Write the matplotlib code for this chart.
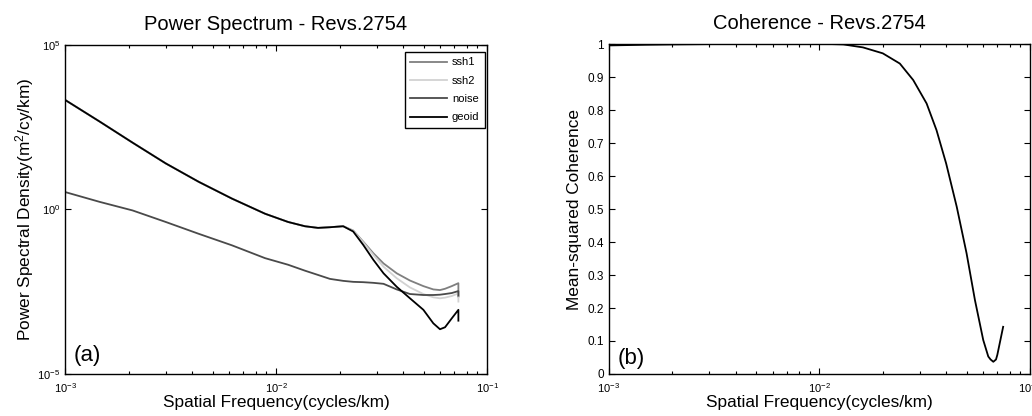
import matplotlib
matplotlib.use('Agg')
import matplotlib.pyplot as plt
import matplotlib.ticker as mticker
import numpy as np

plt.rcParams['font.family'] = ['Liberation Sans', 'DejaVu Sans']
plt.rcParams['mathtext.default'] = 'regular'

# Power spectrum (a): frequency in cycles/km, PSD given as log10 values
psd_freq = [1.0e-3, 1.46e-3, 2.09e-3, 3.0e-3, 4.3e-3, 6.18e-3, 8.87e-3, 1.14e-2,
            1.37e-2, 1.58e-2, 1.80e-2, 2.08e-2, 2.32e-2, 2.59e-2, 2.89e-2, 3.23e-2,
            3.73e-2, 4.31e-2, 4.99e-2, 5.56e-2, 5.98e-2, 6.32e-2, 6.80e-2, 7.31e-2,
            7.31e-2]
ssh1_log10 = [3.33, 2.67, 2.03, 1.40, 0.84, 0.33, -0.13, -0.38, -0.51, -0.56,
              -0.54, -0.51, -0.64, -0.98, -1.33, -1.64, -1.94, -2.16, -2.33,
              -2.43, -2.45, -2.41, -2.33, -2.24, -2.65]
ssh2_log10 = [3.33, 2.67, 2.03, 1.40, 0.84, 0.33, -0.13, -0.38, -0.51, -0.56,
              -0.54, -0.51, -0.65, -1.00, -1.38, -1.74, -2.09, -2.37, -2.57,
              -2.67, -2.70, -2.68, -2.63, -2.55, -2.80]
noise_log10 = [0.53, 0.23, -0.03, -0.38, -0.74, -1.09, -1.48, -1.68, -1.86, -1.99,
               -2.11, -2.17, -2.20, -2.21, -2.23, -2.26, -2.43, -2.57, -2.60,
               -2.60, -2.59, -2.57, -2.54, -2.48, -2.62]
geoid_log10 = [3.33, 2.67, 2.03, 1.40, 0.84, 0.33, -0.13, -0.38, -0.51, -0.56,
               -0.54, -0.51, -0.67, -1.08, -1.53, -1.94, -2.35, -2.70, -3.05,
               -3.46, -3.64, -3.58, -3.31, -3.05, -3.38]

# Coherence (b)
coh_freq = [1.0e-3, 1.5e-3, 2.0e-3, 3.0e-3, 5.0e-3, 1.0e-2, 1.15e-2, 1.30e-2,
            1.61e-2, 2.0e-2, 2.41e-2, 2.79e-2, 3.23e-2, 3.60e-2, 4.0e-2, 4.49e-2,
            5.0e-2, 5.48e-2, 6.0e-2, 6.34e-2, 6.50e-2, 6.70e-2, 6.90e-2, 7.0e-2,
            7.46e-2]
coherence = [0.996, 0.998, 0.999, 1.0, 1.0, 1.0, 1.0, 0.999,
             0.990, 0.972, 0.941, 0.891, 0.820, 0.739, 0.638, 0.507,
             0.366, 0.224, 0.103, 0.053, 0.044, 0.037, 0.044, 0.058,
             0.143]

series = [
    ('ssh1', ssh1_log10, '#7f7f7f'),
    ('ssh2', ssh2_log10, '#d2d2d2'),
    ('noise', noise_log10, '#4a4a4a'),
    ('geoid', geoid_log10, '#000000'),
]


def style_axes(ax):
    ax.set_xscale('log')
    ax.set_xlim(1e-3, 1e-1)
    ax.tick_params(which='both', direction='in', top=True, right=True,
                   labelsize=8, width=0.8)
    ax.tick_params(which='major', length=4)
    ax.tick_params(which='minor', length=2)
    ax.tick_params(axis='x', which='both', pad=5)
    for sp in ax.spines.values():
        sp.set_linewidth(1.0)
    ax.set_xlabel('Spatial Frequency(cycles/km)', fontsize=12.4, labelpad=0)


fig = plt.figure(figsize=(10.32, 4.16), dpi=100)

# (a) power spectrum
ax1 = fig.add_axes([0.063, 0.101, 0.409, 0.791])
for name, vals, color in series:
    ax1.plot(psd_freq, 10 ** np.array(vals), color=color, linewidth=1.3, label=name)
ax1.set_yscale('log')
style_axes(ax1)
ax1.set_ylim(1e-5, 1e5)
ax1.set_yticks([1e-5, 1e0, 1e5])
ax1.yaxis.set_minor_locator(mticker.NullLocator())
ax1.set_ylabel('Power Spectral Density(m$^2$/cy/km)', fontsize=12.4, labelpad=1)
ax1.set_title('Power Spectrum - Revs.2754', fontsize=14.5, pad=11)
ax1.text(0.02, 0.04, '(a)', transform=ax1.transAxes, fontsize=16)
leg = ax1.legend(loc='upper right', bbox_to_anchor=(0.995, 0.979),
                 borderaxespad=0, fontsize=8, fancybox=False,
                 edgecolor='black', framealpha=1, handlelength=3.3,
                 handletextpad=0.45, labelspacing=0.75, borderpad=0.5)
leg.get_frame().set_linewidth(1.0)

# (b) coherence
ax2 = fig.add_axes([0.590, 0.101, 0.408, 0.793])
ax2.plot(coh_freq, coherence, color='black', linewidth=1.3)
style_axes(ax2)
ax2.set_ylim(0, 1)
yt = [0, 0.1, 0.2, 0.3, 0.4, 0.5, 0.6, 0.7, 0.8, 0.9, 1]
ax2.set_yticks(yt)
ax2.set_yticklabels(['0'] + [f'{v:.1f}' for v in yt[1:-1]] + ['1'])
ax2.tick_params(axis='y', labelsize=8.5)
ax2.set_ylabel('Mean-squared Coherence', fontsize=12.4, labelpad=4)
ax2.set_title('Coherence - Revs.2754', fontsize=14.5, pad=11)
ax2.text(0.02, 0.03, '(b)', transform=ax2.transAxes, fontsize=16)

fig.savefig('out.png', dpi=100)
plt.close(fig)
